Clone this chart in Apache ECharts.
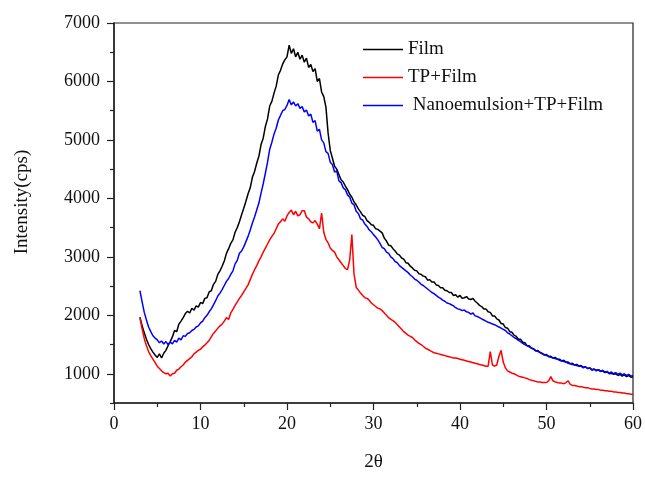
<!DOCTYPE html>
<html>
<head>
<meta charset="utf-8">
<title>XRD patterns</title>
<script src="https://cdn.jsdelivr.net/npm/echarts@6/dist/echarts.min.js"></script>
<style>
  html, body { margin: 0; padding: 0; background: #fff; }
  #chart { width: 645px; height: 477px; }
</style>
</head>
<body>
<div id="chart"></div>
<script>
// scan: 2θ from 3° to 60°, step 0.25°
const scanStart = 3;
const scanStep = 0.25;

// Film (black), one value per scan step
const filmCounts = [
  1970, 1820, 1700, 1590,  1500, 1430, 1370, 1320,  1280, 1340, 1270, 1350,
  1400, 1480, 1550, 1630,  1740, 1720, 1850, 1900,  1960, 2030, 2070, 2040,
  2120, 2090, 2160, 2140,  2220, 2200, 2290, 2300,  2400, 2420, 2530, 2580,
  2700, 2760, 2840, 2930,  3060, 3140, 3230, 3290,  3420, 3500, 3600, 3720,
  3830, 3950, 4080, 4180,  4360, 4460, 4600, 4720,  4920, 5030, 5230, 5360,
  5580, 5660, 5800, 5920,  6110, 6190, 6300, 6370,  6420, 6620, 6480, 6560,
  6420, 6500, 6380, 6450,  6330, 6400, 6240, 6290,  6170, 6220, 6000, 6050,
  5820, 5740, 5560, 5120,  4820, 4690, 4550, 4500,  4410, 4320, 4280, 4210,
  4150, 4070, 4020, 3940,  3890, 3820, 3770, 3710,  3690, 3620, 3590, 3550,
  3540, 3480, 3470, 3440,  3410, 3320, 3270, 3200,  3190, 3140, 3100, 3050,
  3030, 2980, 2960, 2900,  2890, 2840, 2810, 2770,  2760, 2710, 2700, 2670,
  2660, 2600, 2610, 2570,  2570, 2520, 2510, 2470,  2470, 2430, 2420, 2390,
  2390, 2340, 2350, 2310,  2340, 2290, 2300, 2320,  2280, 2270, 2290, 2240,
  2210, 2170, 2150, 2110,  2110, 2060, 2050, 1990,  1990, 1940, 1920, 1860,
  1850, 1790, 1780, 1720,  1710, 1660, 1640, 1590,  1590, 1540, 1530, 1480,
  1480, 1440, 1430, 1390,  1400, 1360, 1350, 1320,  1330, 1290, 1300, 1270,
  1280, 1250, 1250, 1220,  1230, 1200, 1200, 1170,  1180, 1150, 1160, 1130,
  1140, 1110, 1120, 1090,  1100, 1070, 1080, 1060,  1070, 1040, 1050, 1020,
  1030, 1000, 1010, 990,   1000, 970, 990, 960,     980, 950, 970, 940,
  950
];

// TP+Film (red)
const tpFilmCounts = [
  1950, 1770, 1600, 1480,  1380, 1310, 1250, 1190,  1130, 1090, 1050, 1020,
  1000, 1010, 960, 1000,   1010, 1060, 1080, 1120,  1150, 1200, 1230, 1260,
  1290, 1340, 1370, 1400,  1420, 1460, 1490, 1530,  1570, 1630, 1690, 1730,
  1780, 1820, 1850, 1900,  1960, 1930, 2040, 2100,  2170, 2230, 2290, 2340,
  2400, 2460, 2520, 2610,  2700, 2780, 2850, 2930,  3000, 3080, 3150, 3220,
  3290, 3350, 3400, 3480,  3560, 3600, 3650, 3610,  3700, 3760, 3800, 3720,
  3780, 3700, 3720, 3790,  3790, 3680, 3650, 3600,  3580, 3620, 3560, 3480,
  3750, 3420, 3300, 3240,  3150, 3110, 3080, 3000,  2950, 2900, 2850, 2800,
  2780, 2950, 3380, 2700,  2480, 2430, 2380, 2340,  2300, 2290, 2260, 2210,
  2180, 2150, 2120, 2110,  2080, 2040, 2000, 1960,  1930, 1910, 1880, 1840,
  1800, 1760, 1720, 1690,  1660, 1640, 1620, 1580,  1550, 1520, 1500, 1470,
  1440, 1420, 1400, 1380,  1360, 1350, 1340, 1330,  1320, 1310, 1300, 1290,
  1280, 1270, 1270, 1260,  1250, 1240, 1230, 1220,  1210, 1200, 1190, 1180,
  1170, 1160, 1150, 1140,  1130, 1130, 1380, 1150,  1130, 1150, 1300, 1400,
  1200, 1100, 1050, 1030,  1010, 1000, 980, 960,    950, 940, 930, 920,
  900, 890, 880, 870,      860, 860, 850, 850,      850, 880, 950, 880,
  860, 850, 840, 840,      830, 850, 880, 820,      800, 800, 790, 780,
  780, 770, 760, 760,      750, 740, 740, 730,      730, 720, 720, 710,
  710, 700, 700, 690,      690, 680, 680, 670,      670, 660, 660, 650,
  650
];

// Nanoemulsion+TP+Film (blue)
const nanoCounts = [
  2420, 2230, 2050, 1920,  1800, 1720, 1650, 1610,  1580, 1530, 1560, 1510,
  1550, 1500, 1540, 1510,  1570, 1540, 1610, 1580,  1650, 1640, 1690, 1700,
  1740, 1760, 1800, 1820,  1870, 1900, 1960, 2000,  2060, 2110, 2180, 2250,
  2330, 2380, 2440, 2510,  2580, 2630, 2700, 2760,  2880, 2940, 3060, 3100,
  3170, 3260, 3350, 3460,  3580, 3680, 3800, 3920,  4090, 4250, 4430, 4620,
  4840, 4960, 5100, 5200,  5340, 5420, 5500, 5520,  5590, 5690, 5600, 5650,
  5580, 5620, 5540, 5570,  5480, 5510, 5410, 5440,  5300, 5330, 5150, 5180,
  5000, 4950, 4800, 4770,  4620, 4580, 4450, 4470,  4300, 4270, 4180, 4150,
  4060, 4020, 3920, 3890,  3780, 3740, 3650, 3630,  3560, 3520, 3460, 3430,
  3380, 3340, 3290, 3230,  3160, 3140, 3080, 3060,  3000, 2970, 2920, 2900,
  2850, 2820, 2790, 2760,  2730, 2690, 2660, 2620,  2600, 2570, 2530, 2510,
  2480, 2450, 2420, 2390,  2370, 2340, 2310, 2290,  2260, 2240, 2210, 2200,
  2180, 2160, 2130, 2110,  2100, 2080, 2090, 2060,  2050, 2020, 2040, 1990,
  1980, 1960, 1940, 1920,  1900, 1880, 1870, 1850,  1840, 1820, 1800, 1780,
  1760, 1740, 1700, 1680,  1650, 1620, 1600, 1570,  1550, 1520, 1500, 1480,
  1460, 1440, 1420, 1400,  1380, 1370, 1340, 1330,  1310, 1300, 1280, 1270,
  1260, 1250, 1230, 1220,  1210, 1200, 1180, 1170,  1160, 1150, 1140, 1130,
  1130, 1100, 1120, 1090,  1100, 1060, 1080, 1050,  1070, 1040, 1060, 1030,
  1040, 1010, 1030, 1000,  1020, 990, 1010, 980,    1000, 970, 990, 960,
  970
];

const seriesNames = ['Film', 'TP+Film', ' Nanoemulsion+TP+Film'];
const seriesColors = ['#000000', '#ff0000', '#0000ff'];

const xTickValues = [0, 10, 20, 30, 40, 50, 60];
const yTickValues = [1000, 2000, 3000, 4000, 5000, 6000, 7000];
const yMinorTickValues = [500, 1500, 2500, 3500, 4500, 5500, 6500];

const FONT = 'Liberation Serif';

function toPairs(counts) {
  return counts.map((c, i) => [scanStart + i * scanStep, c]);
}

const chart = echarts.init(document.getElementById('chart'), null, { renderer: 'canvas' });

const lineSeries = [filmCounts, tpFilmCounts, nanoCounts].map((counts, i) => ({
  name: seriesNames[i],
  type: 'line',
  data: toPairs(counts),
  symbol: 'none',
  animation: false,
  lineStyle: { color: seriesColors[i], width: 1.5 },
  itemStyle: { color: seriesColors[i] },
}));

const option = {
  backgroundColor: '#ffffff',
  animation: false,
  grid: {
    left: 114,
    right: 12,
    top: 23,
    bottom: 68,
    show: true,
    borderColor: '#222',
    borderWidth: 1.2,
    backgroundColor: 'transparent',
  },
  legend: {
    left: 358,
    top: 35,
    orient: 'vertical',
    itemWidth: 40,
    itemHeight: 14,
    itemGap: 9,
    textGap: 7,
    icon: 'path://M0,7L40,7L40,8.5L0,8.5Z',
    data: seriesNames,
    textStyle: { fontFamily: FONT, fontSize: 19, color: '#111' },
  },
  xAxis: {
    type: 'value',
    min: 0,
    max: 60,
    interval: 10,
    name: '2θ',
    nameLocation: 'middle',
    nameGap: 50,
    nameTextStyle: { fontFamily: FONT, fontSize: 19, color: '#111' },
    axisLine: { show: true, onZero: false, lineStyle: { color: '#222', width: 1.5 } },
    axisTick: { show: true, inside: false, length: 7, customValues: xTickValues, lineStyle: { color: '#222', width: 1.2 } },
    minorTick: { show: true, splitNumber: 2, length: 4, lineStyle: { color: '#222', width: 1.2 } },
    axisLabel: { fontFamily: FONT, fontSize: 18, color: '#111', margin: 12, customValues: xTickValues, formatter: (v) => String(v) },
    splitLine: { show: false },
  },
  yAxis: [
    {
      type: 'value',
      min: 500,
      max: 7000,
      name: 'Intensity(cps)',
      nameLocation: 'middle',
      nameRotate: 90,
      nameGap: 82,
      nameTextStyle: { fontFamily: FONT, fontSize: 19, color: '#111', padding: [0, 0, 0, 22] },
      axisLine: { show: true, lineStyle: { color: '#222', width: 1.5 } },
      axisTick: { show: true, inside: false, length: 7, customValues: yTickValues, lineStyle: { color: '#222', width: 1.2 } },
      axisLabel: { fontFamily: FONT, fontSize: 18, color: '#111', margin: 14, customValues: yTickValues, formatter: (v) => String(v) },
      splitLine: { show: false },
    },
    {
      // minor ticks only
      type: 'value',
      position: 'left',
      min: 500,
      max: 7000,
      axisLine: { show: false },
      axisTick: { show: true, inside: false, length: 4, customValues: yMinorTickValues, lineStyle: { color: '#222', width: 1.2 } },
      axisLabel: { show: false },
      splitLine: { show: false },
    },
  ],
  series: lineSeries,
};

chart.setOption(option);
</script>
</body>
</html>
